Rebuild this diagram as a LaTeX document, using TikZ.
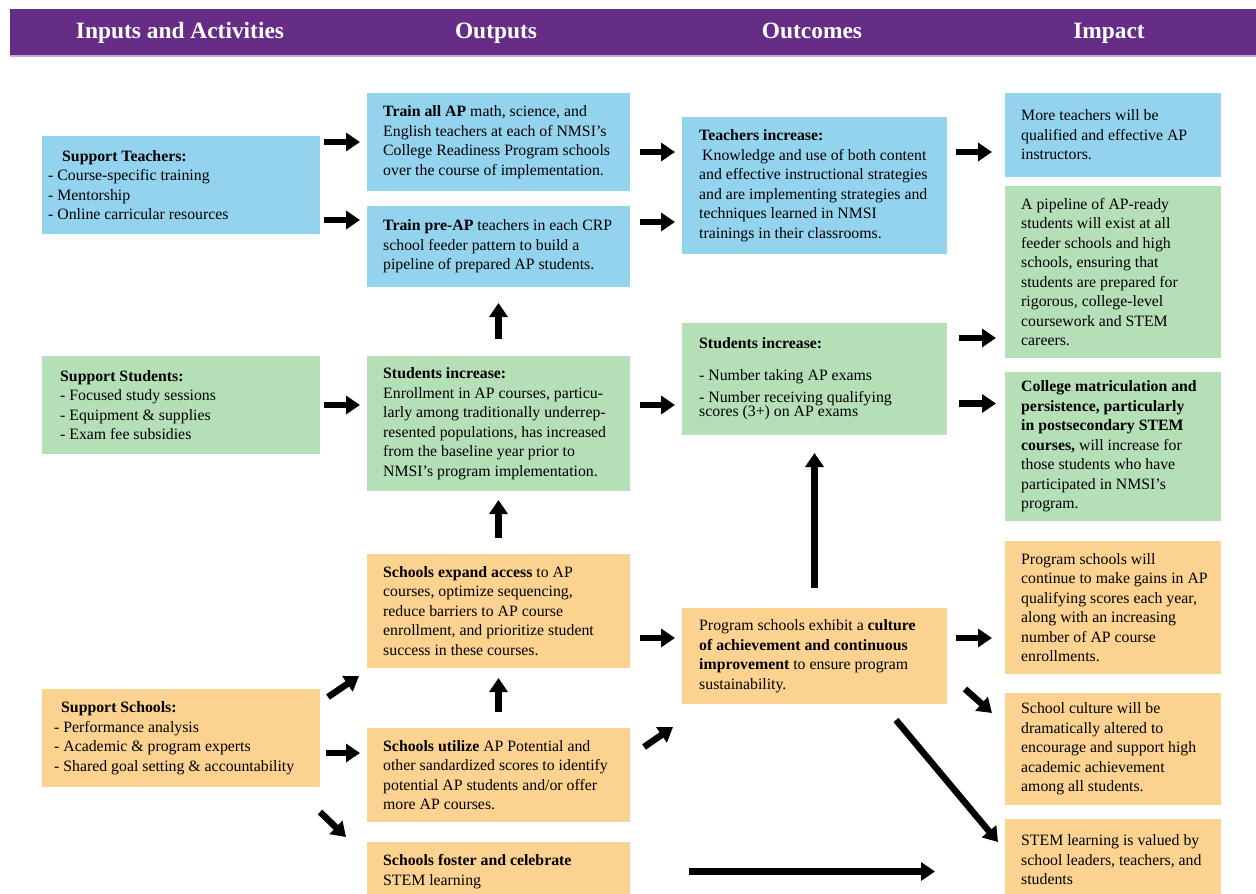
\documentclass[tikz,border=0pt]{standalone}
\usepackage{fontspec}
\setmainfont{Liberation Serif}
\usetikzlibrary{arrows.meta,calc}
\definecolor{hdr}{HTML}{662D87}
\definecolor{hdrline}{HTML}{C9A9DA}
\definecolor{bl}{HTML}{93D3EE}
\definecolor{gr}{HTML}{B4DFB7}
\definecolor{og}{HTML}{FBD290}
\newcommand{\mkbox}[8]{%
 \node[bxs, fill=#2, minimum width=#5pt, minimum height=#6pt] (#1) at (#3,#4) {};
 \node[txt] (#1-t) at ([xshift=#7pt]#1.west) {#8};}
\begin{document}
\begin{tikzpicture}[x=1pt,y=-1pt,
 bxs/.style={draw=none, anchor=north west, inner sep=0pt, outer sep=0pt},
 txt/.style={anchor=west, align=left, inner sep=0pt, font=\fontsize{15.8}{19.5}\selectfont},
 arr/.style={line width=6.5pt, -{Triangle[length=14pt,width=18pt]}},
 hd/.style={text=white, font=\bfseries\fontsize{23.4}{27}\selectfont, anchor=base}]
\useasboundingbox (0,0) rectangle (1256,894);
\clip (0,0) rectangle (1256,894);
\fill[white] (0,0) rectangle (1256,894);
% header
\fill[hdr] (10,9) rectangle (1256,54.5);
\fill[hdrline] (10,54.5) rectangle (1256,57);
\node[hd] (h1) at (180,38) {Inputs and Activities};
\node[hd] (h2) at (496,38) {Outputs};
\node[hd] (h3) at (812,38) {Outcomes};
\node[hd] (h4) at (1109,38) {Impact};
% boxes
\mkbox{st}{bl}{42}{136}{278}{98}{6}{\hspace*{14pt}\textbf{Support Teachers:}\\- Course-specific training\\- Mentorship\\- Online carricular resources}
\mkbox{tap}{bl}{367}{93}{263}{98}{16}{\textbf{Train all AP} math, science, and\\English teachers at each of NMSI's\\College Readiness Program schools\\over the course of implementation.}
\mkbox{tpa}{bl}{367}{206}{263}{81}{16}{\textbf{Train pre-AP} teachers in each CRP\\school feeder pattern to build a\\pipeline of prepared AP students.}
\mkbox{ti}{bl}{682}{117}{265}{137}{17}{\textbf{Teachers increase:}\\\hspace*{3pt}Knowledge and use of both content\\and effective instructional strategies\\and are implementing strategies and\\techniques learned in NMSI\\trainings in their classrooms.}
\mkbox{mt}{bl}{1005}{93}{216}{84}{16}{More teachers will be\\qualified and effective AP\\instructors.}
\mkbox{pl}{gr}{1005}{186}{216}{172}{16}{A pipeline of AP-ready\\students will exist at all\\feeder schools and high\\schools, ensuring that\\students are prepared for\\rigorous, college-level\\coursework and STEM\\careers.}
\mkbox{ss}{gr}{42}{356}{278}{98}{18}{\textbf{Support Students:}\\- Focused study sessions\\- Equipment \& supplies\\- Exam fee subsidies}
\mkbox{sio}{gr}{367}{356}{263}{135}{16}{\textbf{Students increase:}\\Enrollment in AP courses, particu-\\larly among traditionally underrep-\\resented populations, has increased\\from the baseline year prior to\\NMSI's program implementation.}
\mkbox{sic}{gr}{682}{323}{265}{112}{17}{\textbf{Students increase:}\\[12pt]- Number taking AP exams\\[3pt]- Number receiving qualifying\\[-5.5pt]scores (3+) on AP exams}
\mkbox{cm}{gr}{1005}{372}{216}{149}{16}{\textbf{College matriculation and}\\\textbf{persistence, particularly}\\\textbf{in postsecondary STEM}\\\textbf{courses,} will increase for\\those students who have\\participated in NMSI's\\program.}
\mkbox{sea}{og}{367}{554}{263}{114}{16}{\textbf{Schools expand access} to AP\\courses, optimize sequencing,\\reduce barriers to AP course\\enrollment, and prioritize student\\success in these courses.}
\mkbox{ssc}{og}{42}{689}{278}{98}{12}{\hspace*{7pt}\textbf{Support Schools:}\\- Performance analysis\\- Academic \& program experts\\- Shared goal setting \& accountability}
\mkbox{su}{og}{367}{728}{263}{94}{16}{\textbf{Schools utilize} AP Potential and\\other sandardized scores to identify\\potential AP students and/or offer\\more AP courses.}
\mkbox{sf}{og}{367}{842}{263}{59}{16}{\textbf{Schools foster and celebrate}\\STEM learning}
\mkbox{pse}{og}{682}{608}{265}{96}{17}{Program schools exhibit a \textbf{culture}\\\textbf{of achievement and continuous}\\\textbf{improvement} to ensure program\\sustainability.}
\mkbox{psw}{og}{1005}{541}{216}{133}{16}{Program schools will\\continue to make gains in AP\\qualifying scores each year,\\along with an increasing\\number of AP course\\enrollments.}
\mkbox{sc}{og}{1005}{693}{216}{112}{16}{School culture will be\\dramatically altered to\\encourage and support high\\academic achievement\\among all students.}
\mkbox{stv}{og}{1005}{819}{216}{82}{16}{STEM learning is valued by\\school leaders, teachers, and\\students}
% arrows
\coordinate (c2) at ([yshift=26.5pt]tpa.west);
\coordinate (c3) at ([yshift=-10pt]tap.east);
\coordinate (c4) at ([yshift=24.5pt]tpa.east);
\coordinate (c5) at ([yshift=-17pt]mt.west);
\coordinate (c11) at ([yshift=-66pt]pl.west);
\coordinate (c12) at ([yshift=43pt]cm.west);
\coordinate (c14) at ([yshift=-27pt]sea.east);
\coordinate (c21) at ([yshift=22pt]su.west);
\draw[arr, shorten <=4pt, shorten >=7pt] (st.east |- tap.west) -- (tap.west);
\draw[arr, shorten <=4pt, shorten >=7pt] (st.east |- c2) -- (c2);
\draw[arr, shorten <=10pt, shorten >=7pt] (c3) -- (c3 -| ti.west);
\draw[arr, shorten <=10pt, shorten >=7pt] (c4) -- (c4 -| ti.west);
\draw[arr, shorten <=9pt, shorten >=13pt] (c5 -| ti.east) -- (c5);
\draw[arr, shorten <=17pt, shorten >=16pt] (sio.north) -- (tpa.south);
\draw[arr, shorten <=16pt, shorten >=9pt] (sea.north) -- (sio.south);
\draw[arr, shorten <=16pt, shorten >=10pt] (su.north) -- (sea.south);
\draw[arr, shorten <=4pt, shorten >=7pt] (ss.east) -- (ss.east -| sio.west);
\draw[arr, shorten <=10pt, shorten >=7pt] (ss.east -| sio.east) -- (ss.east -| sic.west);
\draw[arr, shorten <=12pt, shorten >=9pt] (c11 -| sic.east) -- (c11);
\draw[arr, shorten <=12pt, shorten >=9pt] (c12 -| sic.east) -- (c12);
\draw[arr, shorten <=20pt, shorten >=18pt] (pse.north) -- (sic.south);
\draw[arr, shorten <=10pt, shorten >=7pt] (c14) -- (c14 -| pse.west);
\draw[arr, shorten <=9pt, shorten >=13pt] (c14 -| pse.east) -- (c14 -| psw.west);
\draw[arr] ([xshift=18pt,yshift=15pt]pse.south east) -- ([xshift=-13pt,yshift=-20pt]sc.north west);
\draw[arr] ([xshift=-51pt,yshift=-16pt]pse.south east) -- ([xshift=-7pt,yshift=-23pt]stv.north west);
\draw[arr] ([xshift=14pt,yshift=-19pt]su.north east) -- ([xshift=-9pt,yshift=-23pt]pse.south west);
\draw[arr, shorten <=59pt, shorten >=70pt] (sf.east) -- (sf.east -| stv.west);
\draw[arr] ([xshift=8pt,yshift=-8pt]ssc.north east) -- ([xshift=-8pt,yshift=-8pt]sea.south west);
\draw[arr, shorten <=6pt, shorten >=7pt] (c21 -| ssc.east) -- (c21);
\draw[arr] ([yshift=-25pt]ssc.south east) -- ([xshift=-21pt,yshift=5pt]sf.north west);
\end{tikzpicture}
\end{document}
